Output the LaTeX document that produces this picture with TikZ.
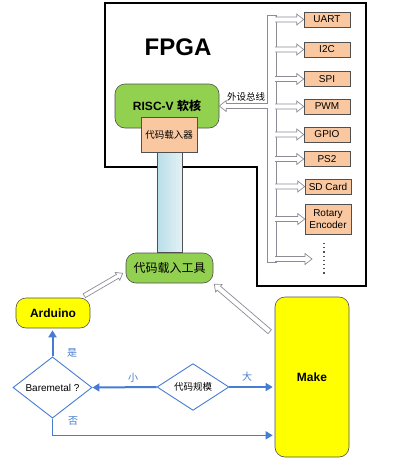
\documentclass[tikz,border=0pt]{standalone}
\usepackage{fontspec}
\setmainfont{Liberation Sans}
\newfontfamily\cjk{Noto Sans CJK SC}
\usetikzlibrary{arrows.meta,shapes.geometric,calc}
\definecolor{peach}{RGB}{250,200,160}
\definecolor{leaf}{RGB}{146,208,80}
\definecolor{yel}{RGB}{255,255,0}
\definecolor{fblue}{RGB}{70,125,210}
\definecolor{edgec}{RGB}{80,80,80}
\definecolor{busgray}{RGB}{140,140,150}
\definecolor{tubeL}{RGB}{185,222,232}
\definecolor{tubeR}{RGB}{228,242,246}
\newcommand\hollowarr[5]{%
  \coordinate (ha-b) at ($(#2)!#5!(#1)$);
  \filldraw[bus] ($(#1)!#3!90:(#2)$) -- ($(ha-b)!#3!90:(#2)$) -- ($(ha-b)!#4!90:(#2)$) -- (#2)
    -- ($(ha-b)!#4!-90:(#2)$) -- ($(ha-b)!#3!-90:(#2)$) -- ($(#1)!#3!-90:(#2)$) -- cycle;
}
\begin{document}
\begin{tikzpicture}[x=1pt,y=-1pt,
  perbox/.style={draw=edgec, line width=0.6pt, fill=peach, inner sep=0pt, minimum width=46pt, minimum height=15pt, font=\fontsize{10}{12}\selectfont, align=center},
  greenbox/.style={draw=edgec, line width=0.6pt, fill=leaf, rounded corners=10pt, inner sep=0pt},
  yelbox/.style={draw=edgec, line width=0.6pt, fill=yel, rounded corners=10pt, inner sep=0pt, font=\bfseries\fontsize{12}{14}\selectfont},
  decision/.style={diamond, draw=fblue, line width=0.9pt, fill=white, inner sep=0pt},
  bus/.style={draw=busgray, line width=0.7pt, fill=white},
  flow/.style={draw=fblue, -{Triangle[length=7pt,width=8pt]}},
  flowlabel/.style={text=fblue, font=\cjk\fontsize{10}{11}\selectfont}
]
\useasboundingbox (0,0) rectangle (400,472);
\fill[white] (0,0) rectangle (400,472);

% FPGA outline
\draw[line width=1.2pt] (105,3) -- (366,3) -- (366,286) -- (257,286) -- (257,167) -- (105,167) -- cycle;
\node[font=\bfseries\fontsize{24}{28}\selectfont] (fpga) at (178,47) {FPGA};

% peripherals
\node[perbox] (uart) at (327,19.5) {UART};
\node[perbox] (i2c) at (327,49.5) {I2C};
\node[perbox] (spi) at (327,79) {SPI};
\node[perbox] (pwm) at (327,106.5) {PWM};
\node[perbox] (gpio) at (327,134.5) {GPIO};
\node[perbox] (ps2) at (327,159) {PS2};
\node[perbox] (sd) at (328,186.5) {SD Card};
\node[perbox, minimum height=30pt, font=\fontsize{10}{11.5}\selectfont] (rot) at (328,219) {Rotary\\Encoder};
\coordinate (lastp) at (312,259);
\coordinate (tk) at (270,0);
\coordinate (tk2) at (273,0);

% RISC-V core and loader
\node[greenbox, minimum width=104pt, minimum height=44pt, font=\bfseries\fontsize{12}{14}\selectfont] (risc) at (167,106) {RISC-V {\cjk 软核}};
\node[perbox, minimum width=56pt, minimum height=35pt, font=\cjk\fontsize{9.5}{11}\selectfont] (loader) at (169,134.5) {代码载入器};

% bus
\filldraw[bus] (267,15.5) rectangle (276,262.5);
\foreach \n in {uart,i2c,spi,pwm,gpio,ps2,sd,rot}{
  \filldraw[bus] ($(tk |- \n.west)+(0,-2.5)$) -- ($(\n.west)+(-7,-2.5)$) -- ($(\n.west)+(-7,-5.5)$) -- (\n.west) -- ($(\n.west)+(-7,5.5)$) -- ($(\n.west)+(-7,2.5)$) -- ($(tk |- \n.west)+(0,2.5)$);
}
\filldraw[bus] ($(tk |- lastp)+(0,-2.5)$) -- ($(lastp)+(-7,-2.5)$) -- ($(lastp)+(-7,-5.5)$) -- (lastp) -- ($(lastp)+(-7,5.5)$) -- ($(lastp)+(-7,2.5)$) -- ($(tk |- lastp)+(0,2.5)$);
\filldraw[bus] ($(tk2 |- risc.east)+(0,-2.5)$) -- ($(risc.east)+(7,-2.5)$) -- ($(risc.east)+(7,-5.5)$) -- (risc.east) -- ($(risc.east)+(7,5.5)$) -- ($(risc.east)+(7,2.5)$) -- ($(tk2 |- risc.east)+(0,2.5)$);
\fill[white] (267.6,16.1) rectangle (275.4,261.9);
\node[font=\cjk\fontsize{9.5}{11}\selectfont] (buslbl) at (246,97) {外设总线};
\draw[edgec, line width=1.2pt, dash pattern=on 1.2pt off 3pt] (324,243) -- (324,276);

% loading tool and tube
\node[greenbox, minimum width=87pt, minimum height=30pt, font=\cjk\fontsize{12}{14}\selectfont] (tool) at (169.5,268) {代码载入工具};
\draw[draw=edgec, line width=0.5pt, left color=tubeL, right color=tubeR] ($(loader.south)+(-12,0)$) rectangle ($(tool.north)+(13,0)$);

% Arduino and Make
\node[yelbox, minimum width=74pt, minimum height=30pt] (ard) at (53,313) {Arduino};
\node[yelbox, minimum width=74pt, minimum height=160pt] (make) at (312,377) {Make};
\coordinate (a1) at ($(ard.north east)+(-6,-2)$);
\coordinate (a2) at ($(tool.south west)+(-3,-10)$);
\hollowarr{a1}{a2}{2.2pt}{4.5pt}{6pt}
\coordinate (m1) at ($(make.north west)+(-5,35)$);
\coordinate (m2) at ($(tool.south east)+(1,1)$);
\hollowarr{m1}{m2}{2.6pt}{5pt}{6pt}

% decisions
\node[decision, minimum width=72pt, minimum height=40pt, font=\cjk\fontsize{9.5}{11}\selectfont] (code) at (193,387) {代码规模};
\node[decision, minimum width=79pt, minimum height=39pt, font=\fontsize{10}{12}\selectfont] (bare) at (52.5,387.5) {Baremetal ?};

\draw[flow, line width=2pt] (code.west) -- (bare.east);
\draw[flow, line width=1.3pt] (code.east) -- ($(code.east -| make.west)+(-2,0)$);
\draw[flow, line width=2pt] (bare.north) -- ($(bare.north |- ard.south)+(0,2)$);
\draw[flow, line width=1.3pt] (bare.south) |- ($(make.south west)+(-2,-22)$);

\node[flowlabel] (small) at (133,378) {小};
\node[flowlabel] (big) at (247,377) {大};
\node[flowlabel] (yes) at (72,353) {是};
\node[flowlabel] (no) at (73,421) {否};
\end{tikzpicture}
\end{document}
